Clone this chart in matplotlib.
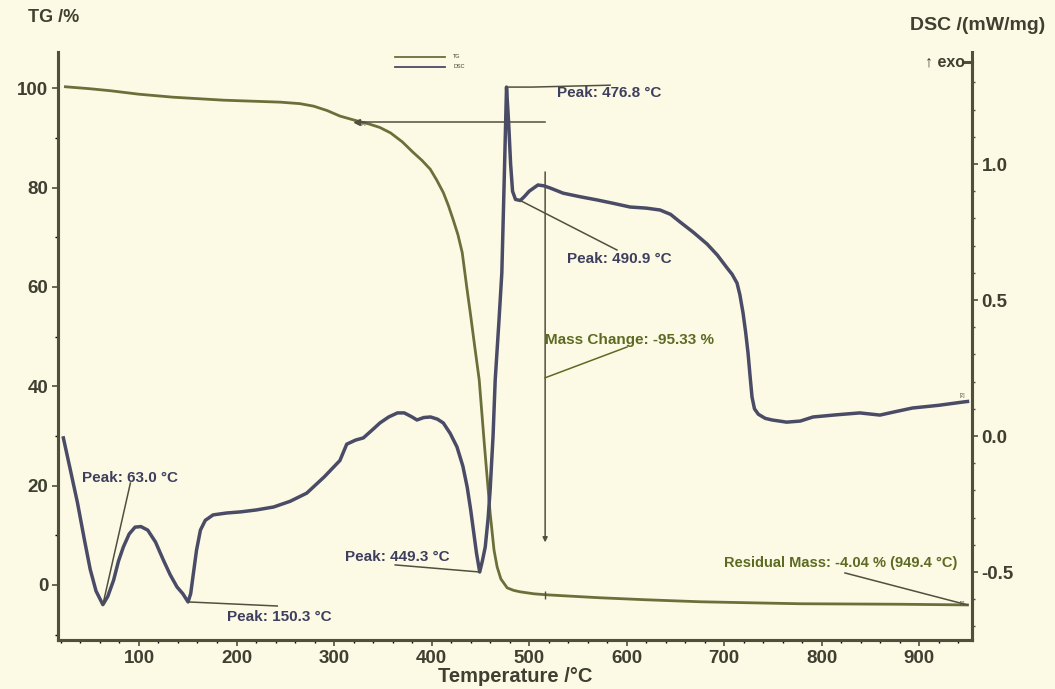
import numpy as np
import matplotlib.pyplot as plt
from matplotlib.lines import Line2D

plt.rcParams['font.family'] = ['Liberation Sans', 'DejaVu Sans']

# TG curve, mass in %
tg_temp = [24.6, 50.0, 70.7, 100.0, 135.0, 186.5, 245.0, 265.0, 279.0, 293.0,
           306.0, 315.0, 324.0, 336.0, 347.0, 358.0, 370.0, 381.0, 390.0, 398.6,
           405.0, 412.0, 417.0, 422.0, 427.0, 431.4, 436.0, 440.0, 444.0, 448.8,
           454.0, 460.0, 464.0, 467.2, 471.0, 477.5, 484.0, 490.8, 505.0, 518.0,
           545.0, 573.0, 620.0, 675.0, 725.0, 778.0, 830.0, 880.0, 949.4]
tg_mass = [100.3, 99.9, 99.5, 98.8, 98.2, 97.6, 97.2, 96.9, 96.4, 95.5,
           94.4, 93.9, 93.4, 92.8, 92.1, 91.0, 89.2, 87.1, 85.5, 83.7,
           81.6, 79.0, 76.5, 73.6, 70.5, 66.9, 60.0, 54.3, 48.3, 41.3,
           28.5, 14.5, 7.0, 3.6, 1.2, -0.6, -1.1, -1.4, -1.8, -2.0,
           -2.3, -2.6, -3.0, -3.4, -3.6, -3.8, -3.85, -3.9, -4.04]

# DSC curve, mW/mg (exo up)
dsc_temp = [22.5, 30.0, 37.0, 44.0, 50.0, 56.0, 63.0, 68.0, 74.0, 79.0,
            84.0, 90.0, 96.0, 102.0, 109.0, 117.0, 125.0, 132.0, 139.0, 145.0,
            150.3, 153.0, 156.0, 159.0, 163.0, 168.0, 176.0, 190.0, 204.0, 220.0,
            238.0, 255.0, 272.0, 290.0, 306.0, 313.0, 322.0, 330.0, 340.0, 347.0,
            356.0, 365.0, 372.0, 380.0, 385.0, 392.0, 399.0, 406.0, 412.0, 419.0,
            426.0, 432.0, 436.5, 440.0, 443.0, 446.0, 449.3, 452.0, 455.0, 458.0,
            460.0, 463.0, 465.2, 469.0, 472.0, 474.5, 476.8, 479.0, 481.0, 483.0,
            486.0, 490.9, 495.0, 500.0, 509.0, 515.0, 521.5, 534.8, 552.0, 569.7,
            587.0, 603.5, 620.0, 634.2, 645.0, 654.7, 668.0, 682.4, 693.0, 702.9,
            708.0, 713.1, 716.0, 719.3, 722.0, 724.4, 726.5, 728.5, 731.0, 735.0,
            742.0, 749.0, 764.0, 778.0, 791.0, 815.0, 839.0, 859.6, 876.0, 893.0,
            920.0, 944.7, 949.4]
dsc_heat = [-0.007, -0.13, -0.246, -0.38, -0.49, -0.57, -0.62, -0.59, -0.53, -0.46,
            -0.408, -0.36, -0.335, -0.333, -0.346, -0.39, -0.456, -0.51, -0.555, -0.58,
            -0.61, -0.58, -0.50, -0.42, -0.346, -0.31, -0.29, -0.283, -0.279, -0.272,
            -0.261, -0.24, -0.21, -0.15, -0.09, -0.03, -0.015, -0.007, 0.025, 0.048,
            0.07, 0.085, 0.085, 0.07, 0.059, 0.068, 0.07, 0.062, 0.048, 0.01,
            -0.04, -0.11, -0.188, -0.27, -0.35, -0.43, -0.50, -0.46, -0.408, -0.30,
            -0.199, 0.0, 0.206, 0.42, 0.60, 0.95, 1.283, 1.15, 1.0, 0.90,
            0.87, 0.866, 0.88, 0.90, 0.923, 0.92, 0.912, 0.893, 0.88, 0.868,
            0.855, 0.842, 0.838, 0.831, 0.815, 0.787, 0.75, 0.706, 0.665, 0.618,
            0.595, 0.5625, 0.52, 0.452, 0.38, 0.305, 0.22, 0.143, 0.10, 0.08,
            0.065, 0.059, 0.051, 0.055, 0.07, 0.078, 0.085, 0.077, 0.09, 0.103,
            0.113, 0.125, 0.127]

mass_start = 93.3
mass_change = -95.33
residual = -4.04
residual_temp = 949.4

bg = '#fcfae4'
axis_col = '#4f4f3a'
tg_col = '#6b6f3a'
dsc_col = '#4a4b66'
peak_col = '#3e3f5e'
green_txt = '#5d6a22'
txt_col = '#3f3f32'

fig = plt.figure(figsize=(10.55, 6.89), dpi=100, facecolor=bg)
ax = fig.add_axes([58 / 1055, 49 / 689, 914 / 1055, 588 / 689])
ax.set_facecolor(bg)
ax2 = ax.twinx()

ax.plot(tg_temp, tg_mass, color=tg_col, lw=2.0, zorder=3, solid_joinstyle='round')
ax2.plot(dsc_temp, dsc_heat, color=dsc_col, lw=2.5, zorder=3, solid_joinstyle='round')

ax.set_xlim(17, 954)
ax.set_ylim(-11.1, 107.3)
ax2.set_ylim(-0.75, 1.412)

# axes frame
ax.spines['top'].set_visible(False)
ax2.spines['top'].set_visible(False)
for a in (ax, ax2):
    for s in a.spines.values():
        s.set_color(axis_col)
        s.set_linewidth(2.2)
ax2.spines['right'].set_bounds(-0.75, 1.375)
ax2.plot([0.99, 1.0], [1.375, 1.375], color=axis_col, lw=2.2,
         transform=ax2.get_yaxis_transform(), clip_on=False)

ax.set_xticks(range(100, 1000, 100))
ax.set_xticks(range(20, 960, 20), minor=True)
ax.set_yticks(range(0, 101, 20))
ax.set_yticks(range(-10, 106, 10), minor=True)
ax2.set_yticks([-0.5, 0.0, 0.5, 1.0])
ax2.set_yticks(np.arange(-0.7, 1.35, 0.1), minor=True)
ax2.set_yticklabels(['-0.5', '0.0', '0.5', '1.0'])

tick_font = dict(labelsize=13.5, labelcolor=txt_col, colors=axis_col)
ax.tick_params(axis='both', which='major', direction='out', length=4, width=1.2, pad=3, **tick_font)
ax.tick_params(axis='both', which='minor', direction='out', length=2.5, width=1)
ax2.tick_params(axis='y', which='major', direction='out', length=4, width=1.2, pad=3, **tick_font)
ax2.tick_params(axis='y', which='minor', direction='out', length=2.5, width=1, colors=axis_col)
for lab in ax.get_xticklabels() + ax.get_yticklabels() + ax2.get_yticklabels():
    lab.set_fontweight('bold')

ax.set_xlabel('Temperature /°C', fontsize=14.5, fontweight='bold', color=txt_col, labelpad=0)
fig.text(28 / 1055, 1 - 18 / 689, 'TG /%', fontsize=13, fontweight='bold',
         color=txt_col, va='center', ha='left')
fig.text(1045 / 1055, 1 - 25 / 689, 'DSC /(mW/mg)', fontsize=14, fontweight='bold',
         color=txt_col, va='center', ha='right')
fig.text(965 / 1055, 1 - 62 / 689, '↑ exo', fontsize=11.5, fontweight='bold',
         color=txt_col, va='center', ha='right')

# legend
handles = [Line2D([], [], color=tg_col, lw=1.3), Line2D([], [], color=dsc_col, lw=1.3)]
ax.legend(handles, ['TG', 'DSC'], loc='center', bbox_to_anchor=(430 / 1055, 1 - 62 / 689),
          bbox_transform=fig.transFigure, frameon=False, fontsize=4, handlelength=9,
          handletextpad=1.5, labelspacing=0.9, labelcolor=txt_col)

ann = dict(fontsize=11, fontweight='bold', va='center', ha='left', zorder=5)
lead = dict(color='#505040', lw=1.1, zorder=4)

# DSC peaks
ax2.plot([476.8, 503, 583], [1.283, 1.283, 1.29], **lead)
ax2.text(528.7, 1.261, 'Peak: 476.8 °C', color=peak_col, **ann)
ax2.plot([490.9, 590], [0.866, 0.684], **lead)
ax2.text(539, 0.651, 'Peak: 490.9 °C', color=peak_col, **ann)
ax2.plot([63.0, 91.2], [-0.62, -0.173], **lead)
ax2.text(42, -0.154, 'Peak: 63.0 °C', color=peak_col, **ann)
ax2.plot([150.3, 241.8], [-0.61, -0.625], **lead)
ax2.text(190.6, -0.665, 'Peak: 150.3 °C', color=peak_col, **ann)
ax2.plot([449.3, 362.7], [-0.50, -0.474], **lead)
ax2.text(311.5, -0.445, 'Peak: 449.3 °C', color=peak_col, **ann)

# mass change step
ax.plot([323.8, 516.4], [mass_start, mass_start], **lead)
ax.plot([323.8], [mass_start], marker='<', ms=4, color='#505040', zorder=4)
ax.text(327, mass_start - 0.3, '[1]', fontsize=3.5, color='#505040', va='center', ha='left')
ax.annotate('', xy=(516.4, 8.0), xytext=(516.4, 83.7),
            arrowprops=dict(arrowstyle='-|>', color='#505040', lw=1.1, mutation_scale=7))
ax.plot([516.4], [mass_start + mass_change], marker='|', ms=6, color='#505040', zorder=4)
ax.plot([516.4, 600.4], [41.7, 47.9], color=green_txt, lw=1.1, zorder=4)
ax.text(516.4, 49.3, 'Mass Change: %.2f %%' % mass_change, color=green_txt, **ann)

# residual mass
ax.plot([residual_temp, 823.8], [residual, 2.4], color='#505040', lw=1.1, zorder=4)
ax.text(939.5, 4.43, 'Residual Mass: %.2f %% (%.1f °C)' % (residual, residual_temp),
        color=green_txt, fontsize=10.5, fontweight='bold', va='center', ha='right')
ax.text(944, residual - 0.2, '[3]', fontsize=3.5, color='#505040', va='bottom', ha='center')
ax2.text(944, 0.14, '[2]', fontsize=3.5, color='#505040', va='bottom', ha='center')

fig.savefig('out.png', dpi=100, facecolor=bg)
